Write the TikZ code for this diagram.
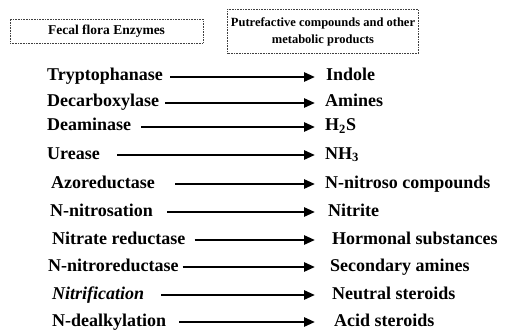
\documentclass[tikz,border=0pt]{standalone}
\usepackage{fontspec}
\setmainfont{Liberation Serif}
\usetikzlibrary{arrows.meta}
\tikzset{
    >={Triangle[length=11pt,width=9pt]},
    enzyme/.style={anchor=west, inner sep=0pt, text height=12pt, text depth=4pt,
        font=\fontsize{18}{20}\selectfont\bfseries},
    product/.style={enzyme},
    headbox/.style={draw=black!75, densely dotted, line width=0.6pt, align=center,
        font=\fontsize{12.5}{17}\selectfont\bfseries},
    flow/.style={->, line width=2.6pt},
}

\begin{document}
\begin{tikzpicture}[x=1pt,y=-1pt]
            \useasboundingbox (0,0) rectangle (505,331);

            % column headings
            \node[headbox, minimum width=193pt, minimum height=24pt, font=\fontsize{13.5}{15}\selectfont\bfseries] (flora) at (106.5,31) {Fecal flora Enzymes};
            \node[headbox, minimum width=185pt, minimum height=44pt] (putre) at (323,31.5) {Putrefactive compounds and other\\metabolic products};

            % enzymes
            \node[enzyme] (tryp)  at (47,77)  {Tryptophanase};
            \node[enzyme] (decar) at (47,103) {Decarboxylase};
            \node[enzyme] (deam)  at (47,127) {Deaminase};
            \node[enzyme] (ure)   at (47,155) {Urease};
            \node[enzyme] (azo)   at (51,184) {Azoreductase};
            \node[enzyme] (nnit)  at (50,212) {N-nitrosation};
            \node[enzyme] (nitra) at (52,240) {Nitrate reductase};
            \node[enzyme] (nred)  at (48,267) {N-nitroreductase};
            \node[enzyme] (nitri) at (52,295) {\itshape Nitrification};
            \node[enzyme] (ndeal) at (52,322) {N-dealkylation};

            % products
            \node[product] (indole)  at (326,77)  {Indole};
            \node[product] (amines)  at (325,103) {Amines};
            \node[product] (hs)      at (325,127) {H\textsubscript{2}S};
            \node[product] (nh)      at (325,155) {NH\textsubscript{3}};
            \node[product] (nitroso) at (325,184) {N-nitroso compounds};
            \node[product] (nitrite) at (328,212) {Nitrite};
            \node[product] (hormon)  at (332,240) {Hormonal substances};
            \node[product] (second)  at (330,267) {Secondary amines};
            \node[product] (neutral) at (332,295) {Neutral steroids};
            \node[product] (acid)    at (334,322) {Acid steroids};

            % column of arrow tips
            \coordinate (tip) at (315,0);

            \draw[flow] ([xshift=7pt]tryp.east)   -- (tryp.east -| tip);
            \draw[flow] ([xshift=6pt]decar.east)  -- (decar.east -| tip);
            \draw[flow] ([xshift=10pt]deam.east)  -- (deam.east -| tip);
            \draw[flow] ([xshift=17pt]ure.east)   -- (ure.east -| tip);
            \draw[flow] ([xshift=20pt]azo.east)   -- (azo.east -| tip);
            \draw[flow] ([xshift=14pt]nnit.east)  -- (nnit.east -| tip);
            \draw[flow] ([xshift=9pt]nitra.east)  -- (nitra.east -| tip);
            \draw[flow] ([xshift=4pt]nred.east)   -- (nred.east -| tip);
            \draw[flow] ([xshift=17pt]nitri.east) -- (nitri.east -| tip);
            \draw[flow] ([xshift=13pt]ndeal.east) -- (ndeal.east -| tip);
        \end{tikzpicture}
\end{document}
